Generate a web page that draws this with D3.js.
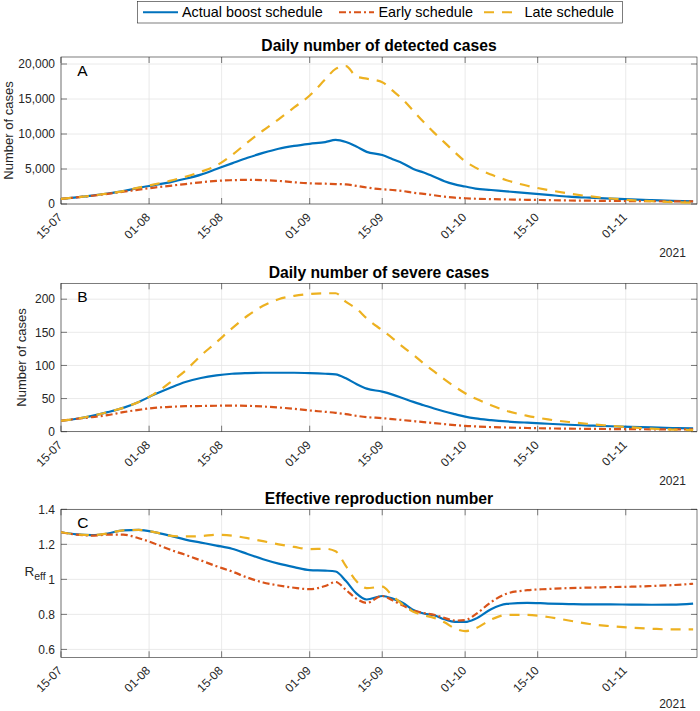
<!DOCTYPE html>
<html><head><meta charset="utf-8">
<script src="https://cdn.jsdelivr.net/npm/d3@7"></script>
<style>
body{margin:0;background:#fff;}
svg{display:block;font-family:"Liberation Sans",Arial,Helvetica,sans-serif;}
</style>
</head><body>
<svg id="chart" width="700" height="711"></svg>
<script>
// ---------------- data ----------------
const dates = ["2021-07-15","2021-07-18","2021-07-21","2021-07-24","2021-07-27","2021-07-30","2021-08-02","2021-08-05","2021-08-08","2021-08-11","2021-08-14","2021-08-17","2021-08-20","2021-08-23","2021-08-26","2021-08-29","2021-09-01","2021-09-04","2021-09-06","2021-09-08","2021-09-10","2021-09-12","2021-09-15","2021-09-17","2021-09-19","2021-09-21","2021-09-23","2021-09-25","2021-09-27","2021-09-29","2021-10-01","2021-10-03","2021-10-06","2021-10-09","2021-10-13","2021-10-17","2021-10-21","2021-10-25","2021-10-29","2021-11-02","2021-11-06","2021-11-10","2021-11-14"];

const seriesNames = ["Actual boost schedule","Early schedule","Late schedule"];
const seriesColors = ["#0072BD","#D95319","#EDB120"];

// Panel A: daily detected cases
const detectedActual = [720,950,1200,1500,1850,2300,2700,3100,3600,4200,5000,5800,6600,7300,7900,8300,8600,8850,9150,8850,8200,7450,7000,6400,5800,5000,4500,3900,3250,2800,2500,2200,2000,1800,1550,1300,1050,900,780,650,550,450,380];
const detectedEarly  = [720,950,1180,1450,1750,2050,2350,2600,2850,3100,3300,3400,3450,3400,3300,3100,2950,2900,2850,2800,2600,2350,2100,2000,1850,1600,1450,1250,1050,900,820,750,700,650,600,550,500,470,440,420,400,380,370];
const detectedLate   = [720,950,1200,1500,1850,2350,2800,3300,3900,4600,5500,7000,8800,10500,12100,13800,15500,17800,19300,19700,18200,17900,17400,16200,14900,13300,11700,10200,8800,7400,6100,5200,4200,3400,2600,2000,1500,1100,800,550,400,280,200];

// Panel B: daily severe cases
const severeActual = [16.5,19.5,24,29.5,36,45,56,66,75,81,85,87.5,88.5,89,89,89,88.5,87.5,86.5,80.5,72,65,60.5,56,50.5,45,40,35,30.5,26.5,22.7,20,17.5,15.5,13.6,12,10.5,9.3,8.2,7.3,6.4,5.6,5];
const severeEarly  = [16.5,19.5,22,25,29.5,33,36,37.5,38.5,38.8,39.2,39.3,39,38,36.5,34.5,32,30,28.5,26.5,24,22,20.5,19,17.5,16,14.5,13,11.5,10,8.8,8,7,6.3,5.6,5,4.6,4.3,4,3.8,3.6,3.5,3.4];
const severeLate   = [16.5,19.5,24,29.5,36,45,57,74,92,115,135,156,175,190,200,205,208,209,209,196,186,171,153,141,128,116,103,91,79,68,58,50,40,31.5,24,18.6,14.6,11.6,9,6.5,4.5,3.2,2.5];

// Panel C: effective reproduction number
const reffActual = [1.269,1.257,1.253,1.262,1.28,1.282,1.27,1.25,1.227,1.21,1.193,1.175,1.145,1.115,1.09,1.07,1.053,1.05,1.045,0.99,0.92,0.885,0.905,0.89,0.865,0.825,0.805,0.795,0.772,0.757,0.757,0.775,0.83,0.86,0.866,0.862,0.859,0.857,0.857,0.856,0.855,0.856,0.862];
const reffEarly  = [1.269,1.255,1.25,1.255,1.255,1.235,1.205,1.17,1.14,1.108,1.075,1.045,1.01,0.982,0.965,0.952,0.944,0.962,0.985,0.94,0.89,0.866,0.905,0.88,0.85,0.822,0.808,0.798,0.78,0.765,0.768,0.8,0.87,0.918,0.938,0.945,0.95,0.953,0.956,0.958,0.962,0.967,0.975];
const reffLate   = [1.269,1.257,1.253,1.262,1.28,1.282,1.27,1.25,1.245,1.247,1.255,1.25,1.235,1.218,1.2,1.185,1.173,1.175,1.16,1.075,0.99,0.95,0.958,0.905,0.855,0.815,0.795,0.78,0.755,0.72,0.705,0.72,0.77,0.797,0.797,0.785,0.765,0.745,0.733,0.724,0.718,0.714,0.714];

const xTickDates = ["2021-07-15","2021-08-01","2021-08-15","2021-09-01","2021-09-15","2021-10-01","2021-10-15","2021-11-01"];
const xTickLabels = ["15-07","01-08","15-08","01-09","15-09","01-10","15-10","01-11"];
const yTicksA = [0,5000,10000,15000,20000];
const yTickLabelsA = ["0","5,000","10,000","15,000","20,000"];
const yTicksB = [0,50,100,150,200];
const yTickLabelsB = ["0","50","100","150","200"];
const yTicksC = [0.6,0.8,1,1.2,1.4];
const yTickLabelsC = ["0.6","0.8","1","1.2","1.4"];
const panelTitles = ["Daily number of detected cases","Daily number of severe cases","Effective reproduction number"];
const panelLetters = ["A","B","C"];
const yearLabel = "2021";

// ---------------- drawing ----------------
const parse = d3.timeParse("%Y-%m-%d");
const dateObjs = dates.map(parse);
const svg = d3.select("#chart");
const L = 61, R = 697;
const x = d3.scaleTime().domain([parse("2021-07-15"), new Date(2021,10,14,18)]).range([L, R]);
const axisColor = "#262626";
const dashes = [null, "7,3,2,3", "10,8"];

const panels = [
  {top:57, bottom:204, dom:[0,21000], ticks:yTicksA, labels:yTickLabelsA, data:[detectedActual,detectedEarly,detectedLate], ylab:"Number of cases", ylabX:12.7, yearDy:53},
  {top:283.3, bottom:431.7, dom:[0,224], ticks:yTicksB, labels:yTickLabelsB, data:[severeActual,severeEarly,severeLate], ylab:"Number of cases", ylabX:26, yearDy:53},
  {top:509.3, bottom:657.3, dom:[0.555,1.4], ticks:yTicksC, labels:yTickLabelsC, data:[reffActual,reffEarly,reffLate], ylab:null, yearDy:50.5}
];

panels.forEach((p, i) => {
  const y = d3.scaleLinear().domain(p.dom).range([p.bottom, p.top]);
  const g = svg.append("g");
  const clipId = "clip" + i;
  svg.append("clipPath").attr("id", clipId).append("rect")
    .attr("x", L).attr("y", p.top - 2).attr("width", R - L).attr("height", p.bottom - p.top + 4);

  // grid
  const xt = xTickDates.map(parse);
  g.selectAll(".gx").data(xt).enter().append("line")
    .attr("x1", d => x(d)).attr("x2", d => x(d)).attr("y1", p.top).attr("y2", p.bottom)
    .attr("stroke", "#e4e4e4").attr("stroke-width", 0.8);
  g.selectAll(".gy").data(p.ticks).enter().append("line")
    .attr("x1", L).attr("x2", R).attr("y1", d => y(d)).attr("y2", d => y(d))
    .attr("stroke", "#e4e4e4").attr("stroke-width", 0.8);

  // box
  g.append("rect").attr("x", L).attr("y", p.top).attr("width", R - L).attr("height", p.bottom - p.top)
    .attr("fill", "none").attr("stroke", axisColor).attr("stroke-width", 0.6);

  // ticks (inward, mirrored)
  const tl = 6;
  xt.forEach(d => {
    g.append("line").attr("x1", x(d)).attr("x2", x(d)).attr("y1", p.bottom).attr("y2", p.bottom - tl).attr("stroke", axisColor).attr("stroke-width", 0.6);
    g.append("line").attr("x1", x(d)).attr("x2", x(d)).attr("y1", p.top).attr("y2", p.top + tl).attr("stroke", axisColor).attr("stroke-width", 0.6);
  });
  p.ticks.forEach(d => {
    g.append("line").attr("x1", L).attr("x2", L + tl).attr("y1", y(d)).attr("y2", y(d)).attr("stroke", axisColor).attr("stroke-width", 0.6);
    g.append("line").attr("x1", R).attr("x2", R - tl).attr("y1", y(d)).attr("y2", y(d)).attr("stroke", axisColor).attr("stroke-width", 0.6);
  });

  // x tick labels
  xt.forEach((d, k) => {
    g.append("text").attr("transform", `translate(${x(d) + 2},${p.bottom + 14}) rotate(-45)`)
      .attr("text-anchor", "end").attr("font-size", 12).attr("fill", axisColor).text(xTickLabels[k]);
  });
  // y tick labels
  p.ticks.forEach((d, k) => {
    g.append("text").attr("x", L - 6).attr("y", y(d) + 4.2).attr("text-anchor", "end")
      .attr("font-size", 12).attr("fill", axisColor).text(p.labels[k]);
  });
  // year
  g.append("text").attr("x", 672.5).attr("y", p.bottom + p.yearDy).attr("text-anchor", "middle")
    .attr("font-size", 12).attr("fill", axisColor).text(yearLabel);
  // title
  g.append("text").attr("x", (L + R) / 2).attr("y", p.top - 5.7).attr("text-anchor", "middle")
    .attr("font-size", 15.7).attr("font-weight", "bold").attr("fill", "#000").text(panelTitles[i]);
  // panel letter
  g.append("text").attr("x", 77.3).attr("y", p.top + 19).attr("font-size", 15.5).attr("fill", "#000").text(panelLetters[i]);
  // y label
  if (p.ylab) {
    g.append("text").attr("transform", `translate(${p.ylabX},${(p.top + p.bottom) / 2}) rotate(-90)`)
      .attr("text-anchor", "middle").attr("font-size", 13).attr("fill", axisColor).text(p.ylab);
  } else {
    const t = g.append("text").attr("x", 24.5).attr("y", 575.5).attr("fill", axisColor).attr("font-size", 13.5);
    t.append("tspan").text("R");
    t.append("tspan").attr("font-size", 10.5).attr("dy", 4.5).text("eff");
  }

  // lines
  const line = d3.line().x((d, k) => x(dateObjs[k])).y(d => y(d)).curve(d3.curveMonotoneX);
  p.data.forEach((vals, s) => {
    g.append("path").datum(vals).attr("d", line).attr("fill", "none")
      .attr("clip-path", `url(#${clipId})`)
      .attr("stroke", seriesColors[s]).attr("stroke-width", 2.2)
      .attr("stroke-dasharray", dashes[s]);
  });
});

// legend
const lg = svg.append("g");
lg.append("rect").attr("x", 137.5).attr("y", 1.5).attr("width", 485).attr("height", 21.5)
  .attr("fill", "#fff").attr("stroke", axisColor).attr("stroke-width", 0.6);
const legendItems = [{x0:143, x1:178, tx:182}, {x0:339, x1:374, tx:378.5}, {x0:484, x1:519, tx:524.5}];
legendItems.forEach((it, s) => {
  lg.append("line").attr("x1", it.x0).attr("x2", it.x1).attr("y1", 12.3).attr("y2", 12.3)
    .attr("stroke", seriesColors[s]).attr("stroke-width", 2).attr("stroke-dasharray", dashes[s]);
  lg.append("text").attr("x", it.tx).attr("y", 17.3).attr("font-size", 14.4).attr("fill", "#000").text(seriesNames[s]);
});
</script>
</body></html>
